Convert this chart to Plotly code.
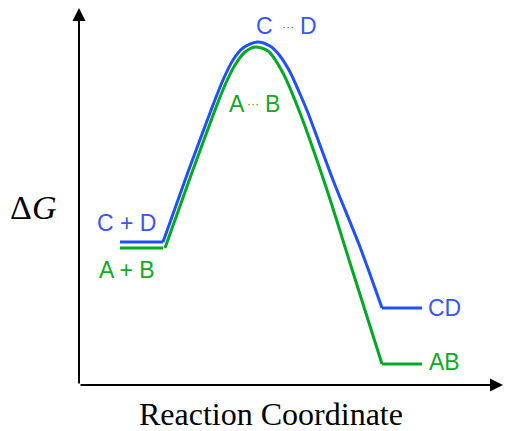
import plotly.graph_objects as go

# reaction coordinate / free energy (arbitrary units)
left_x = [1.025, 2.1]
right_x = [7.575, 8.575]

cd_start = 3.575
cd_end = 1.925
cd_path_x = [2.1, 2.725, 3.35, 3.6, 3.85, 4.1, 4.45, 4.775, 5.025, 5.275, 5.525, 5.725, 6.35, 7.025, 7.575]
cd_path_y = [3.575, 5.325, 7.0, 7.625, 8.125, 8.425, 8.575, 8.475, 8.225, 7.825, 7.275, 6.8, 5.125, 3.45, 1.925]

ab_start = 3.425
ab_end = 0.525
ab_path_x = [2.15, 2.775, 3.4, 3.65, 3.9, 4.15, 4.4, 4.725, 5.1, 5.525, 6.2, 6.775, 7.575]
ab_path_y = [3.425, 5.175, 6.875, 7.5, 8.0, 8.325, 8.45, 8.35, 7.8, 6.8, 4.875, 3.05, 0.525]

blue = "#1f4fff"
green = "#00aa22"
blue_txt = "#3a55ff"
green_txt = "#11aa22"

fig = go.Figure()

def add_curve(path_x, path_y, y0, y1, color):
    fig.add_trace(go.Scatter(x=left_x, y=[y0, y0], mode="lines",
                             line=dict(color=color, width=3)))
    fig.add_trace(go.Scatter(x=path_x, y=path_y, mode="lines",
                             line=dict(color=color, width=3, shape="spline", smoothing=0.8)))
    fig.add_trace(go.Scatter(x=right_x, y=[y1, y1], mode="lines",
                             line=dict(color=color, width=3)))

add_curve(ab_path_x, ab_path_y, ab_start, ab_end, green)
add_curve(cd_path_x, cd_path_y, cd_start, cd_end, blue)

sans = "Liberation Sans, Arial, sans-serif"
serif = "Liberation Serif, Times New Roman, serif"

labels = [
    (1.175, 4.05, "C + D", blue_txt, 23),
    (1.2, 2.875, "A + B", green_txt, 23),
    (4.6375, 8.975, "C", blue_txt, 23),
    (5.2125, 8.94, "···", blue_txt, 12),
    (5.725, 8.975, "D", blue_txt, 23),
    (3.9375, 7.0375, "A", green_txt, 23),
    (4.3375, 7.0375, "···", green_txt, 12),
    (4.8375, 7.0375, "B", green_txt, 23),
    (9.125, 1.925, "CD", blue_txt, 23),
    (9.125, 0.575, "AB", green_txt, 23),
]
for lx, ly, txt, col, sz in labels:
    fig.add_annotation(x=lx, y=ly, text=txt, showarrow=False,
                       font=dict(family=sans, size=sz, color=col))

# axes with arrows
fig.add_annotation(x=0, y=9.425, ax=0, ay=0, xref="x", yref="y", axref="x", ayref="y",
                   text="", showarrow=True, arrowhead=2, arrowsize=1.3, arrowwidth=2, arrowcolor="black")
fig.add_annotation(x=10.6, y=0, ax=0, ay=0, xref="x", yref="y", axref="x", ayref="y",
                   text="", showarrow=True, arrowhead=2, arrowsize=1.3, arrowwidth=2, arrowcolor="black")

fig.add_annotation(x=-0.1085, y=0.4695, xref="paper", yref="paper", xanchor="center", yanchor="middle",
                   text="Δ<i>G</i>", showarrow=False, font=dict(family=serif, size=34, color="black"))
fig.add_annotation(x=0.453, y=-0.077, xref="paper", yref="paper", xanchor="center", yanchor="middle",
                   text="Reaction Coordinate", showarrow=False,
                   font=dict(family=serif, size=32, color="black"))

fig.update_xaxes(range=[0, 10.6], visible=False)
fig.update_yaxes(range=[0, 9.425], visible=False)
fig.update_layout(
    width=506, height=431,
    margin=dict(l=79, r=3, t=8, b=46),
    showlegend=False,
    plot_bgcolor="white", paper_bgcolor="white",
)

fig.write_html("out.html", config={"displayModeBar": False},
               post_script="document.body.style.margin='0';")
